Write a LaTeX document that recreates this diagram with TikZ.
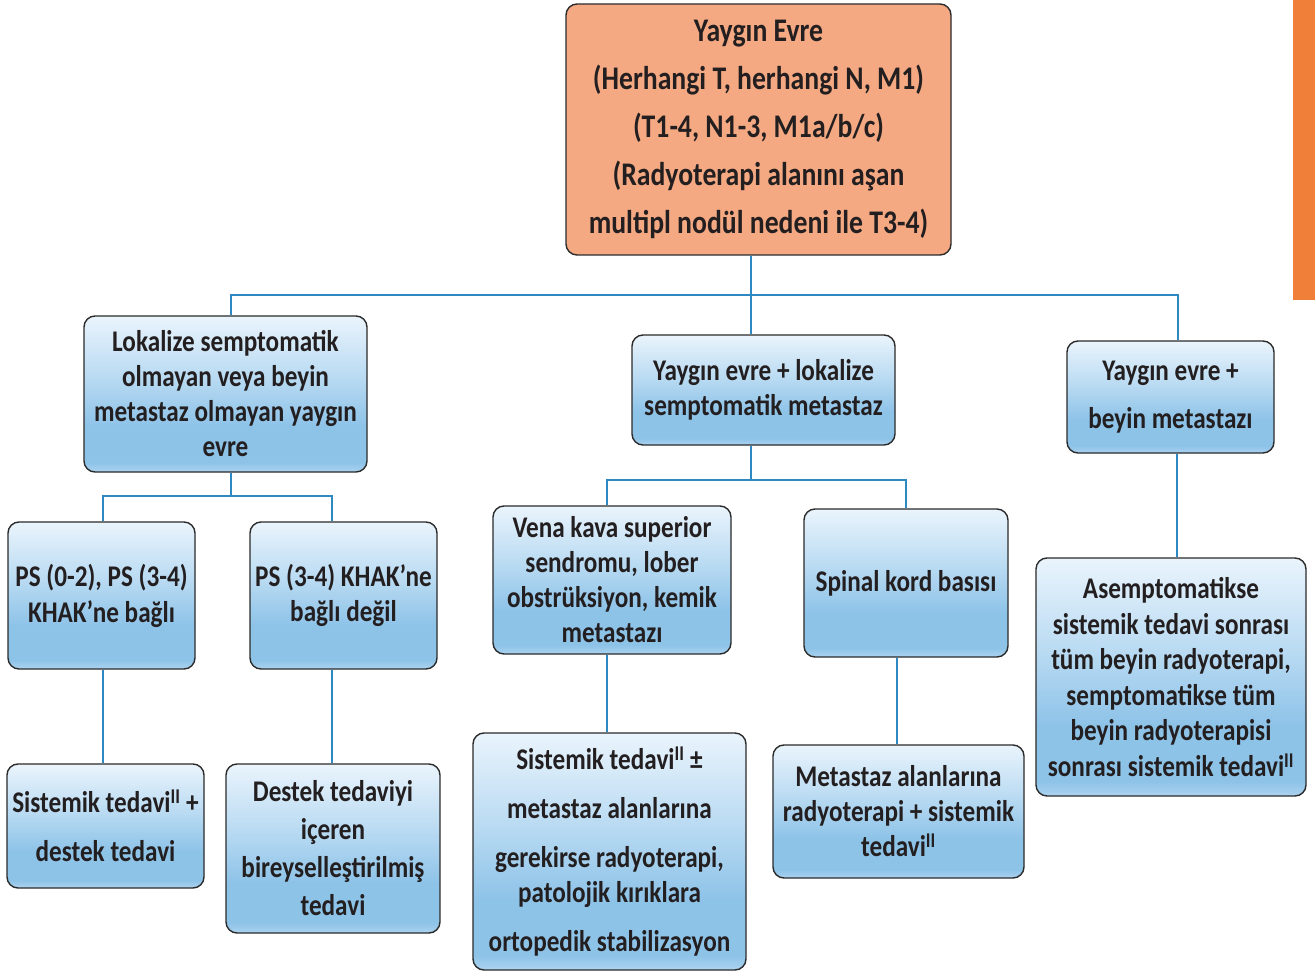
\documentclass[tikz,border=0pt]{standalone}
\usepackage{fontspec}
\setmainfont{Carlito}[FakeStretch=0.84]
\usetikzlibrary{calc}

\definecolor{toporange}{HTML}{F4A983}
\definecolor{boxedge}{HTML}{2B2B2B}
\definecolor{linkblue}{HTML}{2E88C2}
\definecolor{barorange}{HTML}{F07F3A}
\definecolor{shtop}{HTML}{EAF4FC}
\definecolor{shmid}{HTML}{B8DAF2}
\definecolor{shlow}{HTML}{8EC3E8}
\definecolor{shedge}{HTML}{ACD3EF}
\definecolor{inktext}{HTML}{231F20}
% light top fading to blue, with a lighter strip at the very bottom
\pgfdeclareverticalshading{bluebox}{100bp}{color(0bp)=(shedge); color(25bp)=(shedge); color(28bp)=(shlow); color(40bp)=(shlow); color(55bp)=(shmid); color(75bp)=(shtop); color(100bp)=(shtop)}

\tikzset{
  boxbase/.style={draw=boxedge, line width=1.4pt, rounded corners=11pt,
    align=center, inner sep=0pt, text=inktext},
  box/.style={boxbase, shading=bluebox},
  topbox/.style={boxbase, fill=toporange},
  fs/.style={font=\fontsize{30}{#1}\selectfont\bfseries},
  conn/.style={draw=linkblue, line width=2.6pt},
}

\begin{document}
\begin{tikzpicture}[x=1pt, y=-1pt]
\useasboundingbox (0,0) rectangle (1315,976);
\fill[white] (0,0) rectangle (1315,976);
\fill[barorange] (1293,0) rectangle (1315,300);

% top level
\node[topbox, font=\fontsize{33}{48}\selectfont\bfseries, minimum width=385pt, minimum height=251pt] (top) at (758.5,129.5)
  {Yaygın Evre\\(Herhangi T, herhangi N, M1)\\(T1-4, N1-3, M1a/b/c)\\(Radyoterapi alanını aşan\\multipl nodül nedeni ile T3-4)};

% second level
\node[box, fs=35, minimum width=283pt, minimum height=156pt] (L) at (225.5,394)
  {Lokalize semptomatik\\olmayan veya beyin\\metastaz olmayan yaygın\\evre};
\node[box, fs=35, minimum width=263pt, minimum height=110pt] (M) at (763.5,390)
  {Yaygın evre + lokalize\\semptomatik metastaz};
\node[box, fs=48, minimum width=207pt, minimum height=112pt] (R) at (1170.5,397)
  {Yaygın evre +\\beyin metastazı};

% third level
\node[box, fs=36, minimum width=187pt, minimum height=147pt] (LL) at (101.5,595.5)
  {PS (0-2), PS (3-4)\\KHAK’ne bağlı};
\node[box, fs=35, minimum width=187pt, minimum height=147pt] (LR) at (343.5,595.5)
  {PS (3-4) KHAK’ne\\bağlı değil};
\node[box, fs=35, minimum width=238pt, minimum height=148pt] (MA) at (612,580)
  {Vena kava superior\\sendromu, lober\\obstrüksiyon, kemik\\metastazı};
\node[box, fs=35, minimum width=204pt, minimum height=148pt] (MB) at (906,583)
  {Spinal kord basısı};
\node[box, fs=35.6, minimum width=270pt, minimum height=238pt] (RR) at (1171,677)
  {Asemptomatikse\\sistemik tedavi sonrası\\tüm beyin radyoterapi,\\semptomatikse tüm\\beyin radyoterapisi\\sonrası sistemik tedavi\textsuperscript{II}};

% fourth level
\node[box, fs=49, minimum width=197pt, minimum height=124pt] (LLL) at (105.5,826)
  {Sistemik tedavi\textsuperscript{II} +\\destek tedavi};
\node[box, fs=38, minimum width=214pt, minimum height=169pt] (LRR) at (333,848.5)
  {Destek tedaviyi\\içeren\\bireyselleştirilmiş\\tedavi};
\node[box, fs=49, minimum width=273pt, minimum height=237pt] (MAA) at (609.5,851.5)
  {Sistemik tedavi\textsuperscript{II} ±\\metastaz alanlarına\\gerekirse radyoterapi,\\[-14pt]patolojik kırıklara\\ortopedik stabilizasyon};
\node[box, fs=35, minimum width=251pt, minimum height=133pt] (MBB) at (898.5,811.5)
  {Metastaz alanlarına\\radyoterapi + sistemik\\tedavi\textsuperscript{II}};

% connectors
\draw[conn] (top.south -| 751,0) -- (M.north -| 751,0);
\draw[conn] (L.north -| 231,0) |- (1178,295) -- (R.north -| 1178,0);

\draw[conn] (L.south -| 231,0) -- (231,496);
\draw[conn] (LL.north -| 103,0) |- (332,496) -- (LR.north -| 332,0);
\draw[conn] (LL.south -| 103,0) -- (LLL.north -| 103,0);
\draw[conn] (LR.south -| 332,0) -- (LRR.north -| 332,0);

\draw[conn] (M.south -| 751,0) -- (751,480);
\draw[conn] (MA.north -| 607,0) |- (906,480) -- (MB.north -| 906,0);
\draw[conn] (MA.south -| 607,0) -- (MAA.north -| 607,0);
\draw[conn] (MB.south -| 897,0) -- (MBB.north -| 897,0);

\draw[conn] (R.south -| 1177,0) -- (RR.north -| 1177,0);
\end{tikzpicture}
\end{document}
